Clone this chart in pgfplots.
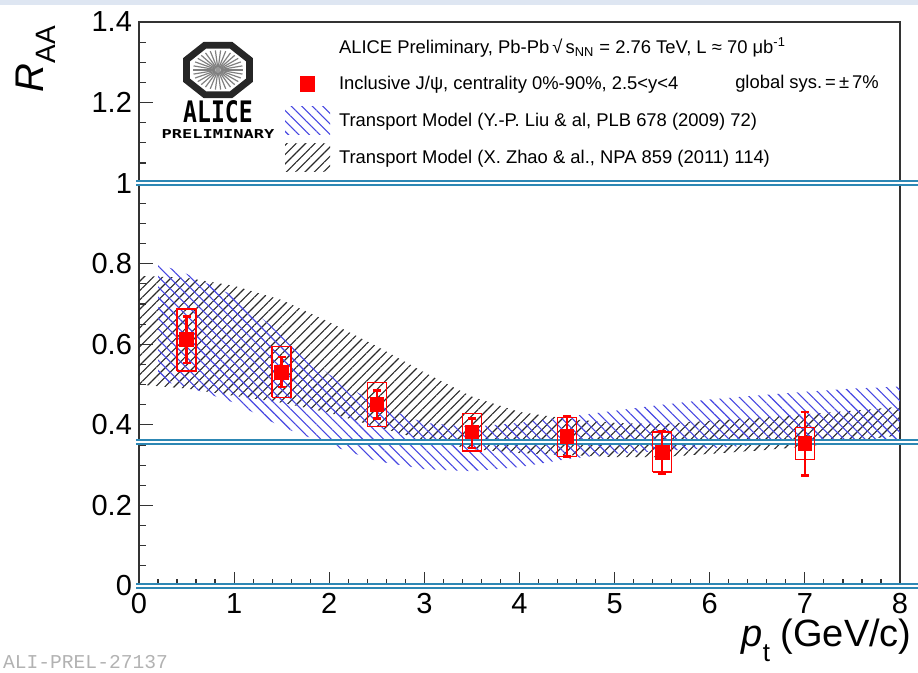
\documentclass[border=0pt]{standalone}
\usepackage{fontspec}
\setmainfont{Liberation Sans}
\newfontfamily\logofont{DejaVu Sans Mono}
\newfontfamily\monofont{Liberation Mono}
\usepackage{pgfplots}
\pgfplotsset{compat=1.18}
\usepgfplotslibrary{fillbetween}
\usetikzlibrary{patterns.meta}
\definecolor{hatchblue}{RGB}{70,70,225}
\definecolor{hatchblack}{RGB}{40,40,40}
\definecolor{refline}{RGB}{45,135,180}
\definecolor{alired}{RGB}{255,0,0}
\definecolor{topstrip}{RGB}{222,230,242}
\pgfplotsset{
  emptyleg/.style={legend image code/.code={\path[draw=none,fill=none] (0pt,-9.25pt) rectangle (22.5pt,9.25pt);}},
  markleg/.style={legend image code/.code={\path[draw=none,fill=none] (0pt,-9.25pt) rectangle (22.5pt,9.25pt); \draw[##1] plot coordinates {(11.25pt,0pt)};}},
  hatchleg/.style={legend image code/.code={\path[draw=none,fill=none] (0pt,-9.25pt) rectangle (22.5pt,9.25pt); \path[##1, draw=none] (0pt,-7pt) rectangle (22.5pt,7pt);}},
}
\begin{document}
\begin{tikzpicture}
\begin{axis}[
  at={(0,0)}, anchor=south west,
  scale only axis, width=380.5pt, height=282pt,
  xmin=0, xmax=8, ymin=0, ymax=1.4,
  clip=false,
  axis line style={black!80, line width=0.9pt},
  xtick={0,1,2,3,4,5,6,7,8}, minor x tick num=4,
  ytick={0,0.2,0.4,0.6,0.8,1,1.2,1.4}, minor y tick num=3,
  xtick pos=bottom, ytick pos=left, tick align=inside,
  major tick length=7pt, minor tick length=3.5pt,
  tick style={black!80, line width=0.6pt},
  ticklabel style={font=\fontsize{14.5}{17}\selectfont},
  /pgf/number format/assume math mode=true,
  yticklabel style={/pgf/number format/fixed},
  xlabel={\textit{p}\raisebox{-0.4em}{\fontsize{13}{13}\selectfont t} (GeV/c)},
  xlabel style={at={(axis description cs:1.0158,-0.058)}, anchor=north east, inner sep=0pt, font=\fontsize{19}{22}\selectfont},
  ylabel={\textit{R}\raisebox{-0.3em}{\fontsize{14}{14}\selectfont AA}},
  ylabel style={at={(axis description cs:-0.136,0.994)}, anchor=east, inner sep=0pt, font=\fontsize{20}{23}\selectfont},
  legend style={at={(axis description cs:0.1919,0.9885)}, anchor=north west, draw=none, fill=none,
     inner sep=0pt, outer sep=0pt, row sep=0pt, column sep=4.5pt,
     font=\fontsize{9.2}{11}\selectfont, nodes={inner sep=0pt}},
  legend cell align=left,
]
% legend
\addlegendimage{emptyleg}
\addlegendentry{ALICE Preliminary, Pb-Pb\,√\,s\textsubscript{NN} = 2.76 TeV, L ≈ 70 μb\textsuperscript{-1}}
\addlegendimage{alired, mark=square*, mark size=3.6pt, markleg}
\addlegendentry{Inclusive J/ψ, centrality 0\%-90\%, 2.5<y<4}
\addlegendimage{pattern={Lines[angle=-45,distance=3.7pt,line width=0.55pt]}, pattern color=hatchblue, hatchleg}
\addlegendentry{Transport Model (Y.-P. Liu \& al, PLB 678 (2009) 72)}
\addlegendimage{pattern={Lines[angle=45,distance=3.3pt,line width=0.55pt]}, pattern color=hatchblack, hatchleg}
\addlegendentry{Transport Model (X. Zhao \& al., NPA 859 (2011) 114)}

% Zhao band
\addplot[name path=zhaoU, draw=none, forget plot] table {
x y
0.0 0.770
0.5 0.765
1.0 0.745
1.5 0.710
2.0 0.655
2.5 0.595
3.0 0.530
3.5 0.470
4.0 0.432
4.5 0.415
5.0 0.405
5.5 0.402
6.0 0.410
6.5 0.418
7.0 0.426
7.5 0.435
8.0 0.445
};
\addplot[name path=zhaoL, draw=none, forget plot] table {
x y
0.0 0.500
0.5 0.490
1.0 0.472
1.5 0.455
2.0 0.430
2.5 0.395
3.0 0.362
3.5 0.340
4.0 0.330
4.5 0.325
5.0 0.320
5.5 0.320
6.0 0.328
6.5 0.336
7.0 0.346
7.5 0.360
8.0 0.374
};
% Liu band
\addplot[name path=liuU, draw=none, forget plot] table {
x y
0.2 0.800
0.5 0.775
1.0 0.720
1.5 0.625
2.0 0.525
2.5 0.450
3.0 0.405
3.5 0.395
4.0 0.405
4.5 0.420
5.0 0.435
5.5 0.450
6.0 0.463
6.5 0.473
7.0 0.482
7.5 0.490
8.0 0.495
};
\addplot[name path=liuL, draw=none, forget plot] table {
x y
0.2 0.510
0.5 0.495
1.0 0.455
1.5 0.395
2.0 0.350
2.5 0.310
3.0 0.290
3.5 0.285
4.0 0.295
4.5 0.315
5.0 0.328
5.5 0.335
6.0 0.342
6.5 0.350
7.0 0.355
7.5 0.360
8.0 0.365
};
\addplot[pattern={Lines[angle=45,distance=3.3pt,line width=0.55pt]}, pattern color=hatchblack, draw=none, forget plot]
  fill between[of=zhaoU and zhaoL];
\addplot[pattern={Lines[angle=-45,distance=3.7pt,line width=0.55pt]}, pattern color=hatchblue, draw=none, forget plot]
  fill between[of=liuU and liuL];

% reference lines
\addplot[refline, line width=0.9pt, double=white, double distance=1.1pt, forget plot] coordinates {(-0.03,1) (8.19,1)};
\addplot[refline, line width=0.9pt, double=white, double distance=1.1pt, forget plot] coordinates {(-0.03,0.357) (8.19,0.357)};
\addplot[refline, line width=0.9pt, double=white, double distance=1.1pt, forget plot] coordinates {(-0.03,0) (8.19,0)};

% systematic boxes
\addplot[alired, line width=0.7pt, mark=none, unbounded coords=jump, forget plot] table {
x y
0.4 0.534
0.6 0.534
0.6 0.688
0.4 0.688
0.4 0.534
0.5 nan
1.4 0.468
1.6 0.468
1.6 0.595
1.4 0.595
1.4 0.468
1.5 nan
2.4 0.396
2.6 0.396
2.6 0.505
2.4 0.505
2.4 0.396
2.5 nan
3.4 0.335
3.6 0.335
3.6 0.428
3.4 0.428
3.4 0.335
3.5 nan
4.4 0.321
4.6 0.321
4.6 0.418
4.4 0.418
4.4 0.321
4.5 nan
5.4 0.283
5.6 0.283
5.6 0.382
5.4 0.382
5.4 0.283
5.5 nan
6.9 0.314
7.1 0.314
7.1 0.393
6.9 0.393
6.9 0.314
};

% data points with statistical errors
\addplot[alired, only marks, mark=square*, mark size=3.4pt, forget plot,
  error bars/.cd, y dir=both, y explicit,
  error bar style={line width=1.2pt, alired},
  error mark options={rotate=90, alired, mark size=2pt, line width=1.2pt}]
  coordinates {
  (0.5,0.612) += (0,0.057) -= (0,0.059)
  (1.5,0.530) += (0,0.039) -= (0,0.036)
  (2.5,0.451) += (0,0.034) -= (0,0.035)
  (3.5,0.382) += (0,0.034) -= (0,0.039)
  (4.5,0.372) += (0,0.050) -= (0,0.051)
  (5.5,0.332) += (0,0.053) -= (0,0.053)
  (7.0,0.354) += (0,0.078) -= (0,0.080)
  };

\node[anchor=west, inner sep=0pt, font=\fontsize{9.2}{11}\selectfont] at (axis description cs:0.783,0.890) {global sys.\,=\,±\,7\%};
\node[anchor=west, inner sep=0pt, text=black!30, font=\monofont\fontsize{9.8}{10}\selectfont] at (axis description cs:-0.179,-0.135) {ALI-PREL-27137};
\coordinate (logo) at (axis description cs:0.1038,0.9149);
\end{axis}
% ALICE logo
\begin{scope}[shift={(logo)}]
  \draw[line width=3.4pt, black!85, yscale=0.79] (22.5:17pt) -- (67.5:17pt) -- (112.5:17pt) -- (157.5:17pt) -- (202.5:17pt) -- (247.5:17pt) -- (292.5:17pt) -- (337.5:17pt) -- cycle;
  \foreach \a in {0,12,...,348} \draw[black!50, line width=0.6pt, yscale=0.79] (\a:1.5pt) -- (\a:12.5pt);
  \fill[black!40] (0,0) circle (1.4pt);
  \node[inner sep=0pt] at (0,-21pt) {\scalebox{0.78}[1]{\logofont\bfseries\fontsize{14.8}{15}\selectfont ALICE}};
  \node[inner sep=0pt] at (0,-32pt) {\scalebox{1}[0.72]{\logofont\bfseries\fontsize{8.5}{9}\selectfont PRELIMINARY}};
\end{scope}
\fill[topstrip] (-69.5pt,290.5pt) rectangle (389.5pt,293pt);
\pgfresetboundingbox
\path[use as bounding box] (-69.5pt,-43.5pt) rectangle (389.5pt,293pt);
\end{tikzpicture}
\end{document}
